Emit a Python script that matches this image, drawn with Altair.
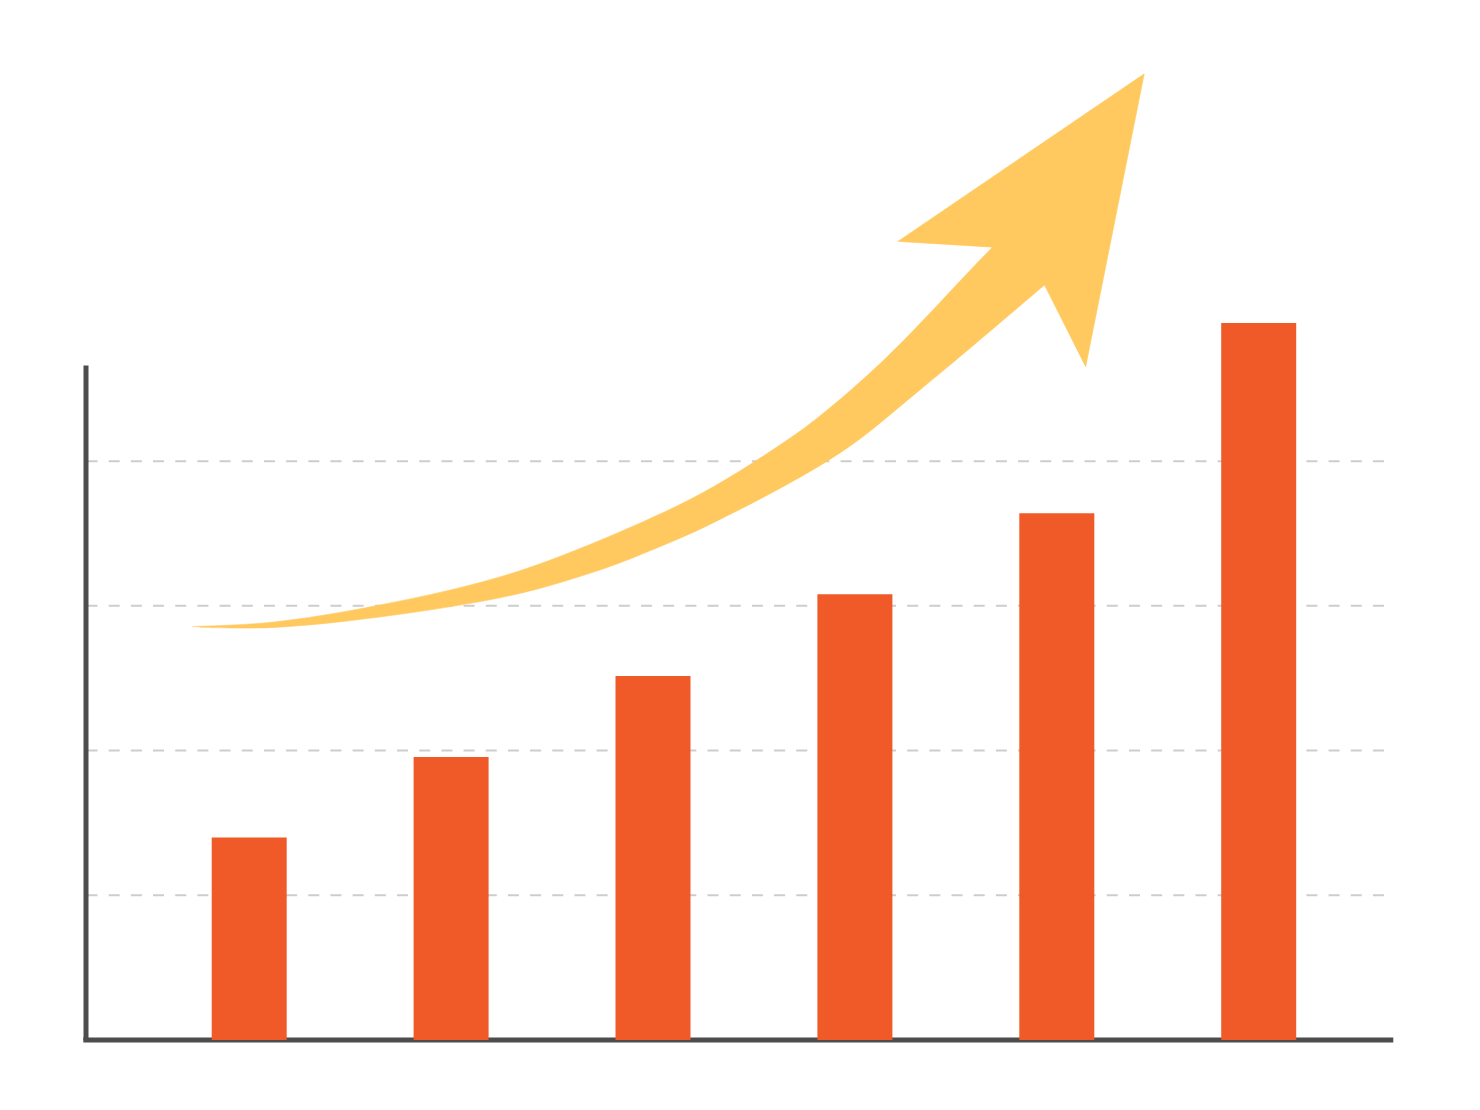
import altair as alt
import pandas as pd

# Bars: category position (1..6) and value
bar_pos = [1, 2, 3, 4, 5, 6]
bar_values = [28.0, 39.1, 50.3, 61.6, 72.8, 99.1]

# Dashed gridline levels
grid_levels = [20, 40, 60, 80]

# Axis extents (value units)
axis_base = [0]
y_axis_top = [93.2]

# Arrow shaft outline traced in chart units (x = category position, y = value):
# tail -> upper edge -> (inside the head) -> lower edge back towards the tail
shaft_x = [0.717, 1.103, 1.648, 2.307, 2.970, 3.297, 3.629, 3.827, 4.159, 4.654, 4.917,
           5.140, 4.939, 4.322, 3.926, 3.297, 2.970, 2.737, 2.307, 1.648, 1.103, 0.756]
shaft_y = [57.15, 57.71, 60.12, 64.55, 71.87, 76.43, 82.24, 86.25, 94.40, 108.78, 116.10,
           109.19, 104.35, 89.84, 81.13, 71.46, 67.45, 64.96, 61.51, 58.47, 56.99, 57.04]

# Arrow head: notch upper, left barb, tip, right barb, notch lower
head_x = [4.704, 4.213, 5.433, 5.143, 4.939]
head_y = [109.54, 110.37, 133.52, 93.06, 104.35]

bars = pd.DataFrame({"pos": bar_pos, "value": bar_values})
grid = pd.DataFrame({"level": grid_levels})
axes_df = pd.DataFrame({"base": axis_base, "top": y_axis_top})
shaft = pd.DataFrame({"x": shaft_x, "y": shaft_y, "order": list(range(len(shaft_x)))})
head = pd.DataFrame({"x": head_x, "y": head_y, "order": list(range(len(head_x)))})

W, H = 1310, 1000
xs = alt.Scale(domain=[0.1917, 6.680], nice=False, zero=False, padding=0)
ys = alt.Scale(domain=[0, 138.2], nice=False, zero=False, padding=0)

ARROW = "#ffc960"

grid_layer = alt.Chart(grid).mark_rule(
    color="#cdcdcd", strokeWidth=2, strokeDash=[11, 11.18]
).encode(
    y=alt.Y("level:Q", scale=ys, axis=None),
    x=alt.value(0.5),
    x2=alt.value(1299),
)

y_axis_line = alt.Chart(axes_df).mark_rule(
    color="#4d4d4d", strokeWidth=5, strokeCap="butt"
).encode(
    x=alt.value(0),
    y=alt.Y("base:Q", scale=ys, axis=None),
    y2=alt.Y2("top:Q"),
)

x_axis_line = alt.Chart(axes_df).mark_rule(
    color="#4d4d4d", strokeWidth=5, strokeCap="butt"
).encode(
    x=alt.value(-2.7),
    x2=alt.value(1307.3),
    y=alt.Y("base:Q", scale=ys, axis=None),
)

bar_layer = alt.Chart(bars).mark_bar(size=75, color="#f05a28").encode(
    x=alt.X("pos:Q", scale=xs, axis=None),
    y=alt.Y("value:Q", scale=ys, axis=None),
)

shaft_layer = alt.Chart(shaft).mark_line(
    fill=ARROW, stroke=ARROW, strokeWidth=0.6, interpolate="catmull-rom"
).encode(
    x=alt.X("x:Q", scale=xs, axis=None),
    y=alt.Y("y:Q", scale=ys, axis=None),
    order=alt.Order("order:Q"),
)

head_layer = alt.Chart(head).mark_line(
    fill=ARROW, stroke=ARROW, strokeWidth=0.6, strokeJoin="miter", strokeMiterLimit=20
).encode(
    x=alt.X("x:Q", scale=xs, axis=None),
    y=alt.Y("y:Q", scale=ys, axis=None),
    order=alt.Order("order:Q"),
)

chart = alt.layer(
    grid_layer, x_axis_line, y_axis_line, bar_layer, shaft_layer, head_layer
).properties(
    width=W, height=H,
    autosize=alt.AutoSizeParams(type="none"),
    padding={"left": 78, "top": 32, "right": 76, "bottom": 54},
    background="white",
).configure_view(stroke=None)

chart.save("out.html", embed_options={"renderer": "svg", "actions": False})
